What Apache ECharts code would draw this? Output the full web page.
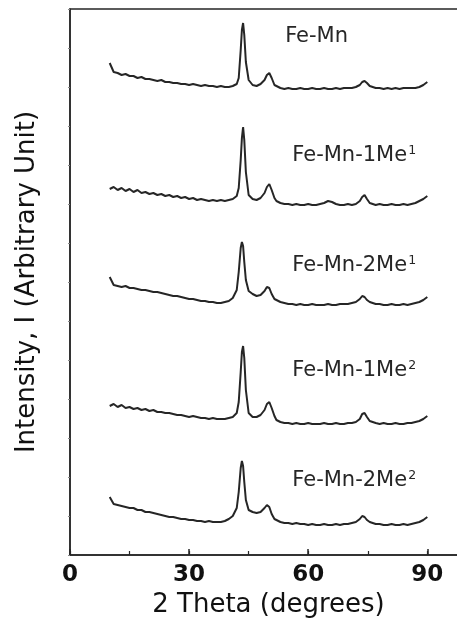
<!DOCTYPE html>
<html>
<head>
<meta charset="utf-8">
<script src="https://cdn.jsdelivr.net/npm/echarts@6/dist/echarts.min.js"></script>
<style>html,body{margin:0;padding:0;background:#fff;}#c{width:457px;height:619px;}</style>
</head>
<body>
<div id="c"></div>
<script>
// 2-theta positions (degrees)
const twoTheta = [10,11,12,13,14,15,16,17,18,19,20,21,22,23,24,25,26,27,28,29,30,31,32,33,34,35,36,37,38,39,40,41,42,42.5,43,43.3,43.6,43.9,44.3,45,46,47,48,49,49.6,50.2,50.8,51.5,52,53,54,55,56,57,58,59,60,61,62,63,64,65,66,67,68,69,70,71,72,73,73.6,74.2,74.8,75.5,76,77,78,79,80,81,82,83,84,85,86,87,88,89,89.5,90];

// Stacked intensities (arbitrary units)
const feMn = [492,483,482,480,481,479,479,477,478,476,476,475,474,475,473,473,472,472,471,471,470,471,470,469,470,469,469,468,469,468,468,469,471,477,505,525,532,520,493,475,470,469,471,475,480,482,477,470,468,467,466,467,466,466,467,466,466,467,466,466,467,466,466,467,466,467,467,467,468,470,473,474,472,469,468,467,467,466,467,466,467,466,467,467,467,467,468,470,471,473];
const feMn1Me1 = [366,368,365,367,364,366,363,365,362,363,361,362,360,361,359,360,358,359,357,358,356,357,355,356,355,354,355,354,355,354,355,356,359,367,395,417,428,415,383,360,356,355,357,362,368,371,365,357,354,352,351,351,350,351,350,350,351,350,350,351,352,354,353,351,350,350,351,350,351,354,358,360,356,352,351,350,351,350,350,351,350,350,351,350,351,352,354,356,357,359];
const feMn2Me1 = [278,270,269,268,269,267,267,266,265,265,264,263,263,262,261,260,259,259,258,257,256,256,255,254,254,253,253,252,252,253,254,257,265,283,307,313,309,293,275,264,261,259,260,264,268,267,261,256,254,253,252,251,251,250,251,250,250,251,250,250,250,251,250,250,251,251,251,252,253,256,259,258,255,253,252,251,251,250,250,251,250,250,251,250,251,252,253,255,256,258];
const feMn1Me2 = [149,151,148,150,147,148,146,147,145,146,144,145,143,143,142,142,141,140,140,139,138,139,138,137,137,136,137,136,136,136,137,138,142,153,183,203,209,197,165,142,138,138,140,145,151,153,147,139,135,133,132,132,131,132,131,131,132,131,131,131,132,131,131,132,131,131,132,132,133,136,141,142,138,134,133,132,131,132,131,131,132,131,131,132,132,133,134,136,137,139];
const feMn2Me2 = [58,51,50,49,48,47,47,45,45,43,43,42,41,40,39,38,38,37,36,36,35,35,34,34,33,34,33,33,33,34,36,39,47,63,87,94,89,73,55,45,43,42,43,47,50,48,41,36,34,33,32,32,31,32,31,31,30,31,30,30,31,30,30,31,30,31,31,32,33,36,39,38,35,33,32,31,31,30,30,31,30,30,31,30,31,32,33,35,36,38];

const seriesNames = ['Fe-Mn','Fe-Mn-1Me1','Fe-Mn-2Me1','Fe-Mn-1Me2','Fe-Mn-2Me2'];
const seriesValues = [feMn, feMn1Me1, feMn2Me1, feMn1Me2, feMn2Me2];
const labelMain = ['Fe-Mn','Fe-Mn-1Me','Fe-Mn-2Me','Fe-Mn-1Me','Fe-Mn-2Me'];
const labelSup = ['','1','1','2','2'];
const labelAt = [[54.2,518],[56,399],[56,289],[56,184],[56,74]];

const xTicks = [0,30,60,90];

const chart = echarts.init(document.getElementById('c'), null, {renderer:'canvas'});
const ink = '#262626';
const series = seriesValues.map((vals, i) => ({
  name: seriesNames[i],
  type: 'line',
  xAxisIndex: 0,
  showSymbol: false,
  symbol: 'none',
  lineStyle: {color: ink, width: 2},
  data: vals.map((v, k) => [twoTheta[k], v]),
  markPoint: {
    symbol: 'circle', symbolSize: 0, silent: true,
    data: [{coord: labelAt[i]}],
    label: {
      show: true, position: 'right', distance: 0,
      formatter: labelSup[i] ? '{b|' + labelMain[i] + '}{s|' + labelSup[i] + '}' : '{b|' + labelMain[i] + '}',
      rich: {
        b: {fontFamily: 'DejaVu Sans', fontSize: 21, color: ink, lineHeight: 24},
        s: {fontFamily: 'DejaVu Sans', fontSize: 12.5, color: ink, verticalAlign: 'top', lineHeight: 5, padding:[0,0,0,1]}
      }
    }
  }
}));

chart.setOption({
  animation: false,
  backgroundColor: '#fff',
  grid: {left: 70, top: 9, width: 397, height: 546, outerBoundsMode: 'none', containLabel: false,
    show: true, borderColor: ink, borderWidth: 1.5, backgroundColor: 'transparent'},
  xAxis: [
    {
      type: 'value', min: 0, max: 100, interval: 30,
      axisLine: {show: true, lineStyle: {color: ink, width: 1.5}},
      axisTick: {show: true, inside: true, length: 6, lineStyle: {color: ink, width: 1.5}},
      axisLabel: {show: true, margin: 9, showMaxLabel: false, color: '#111', fontFamily: 'DejaVu Sans', fontWeight: 'bold', fontSize: 23,
        formatter: v => xTicks.indexOf(v) >= 0 ? String(v) : ''},
      splitLine: {show: false},
      name: '2 Theta (degrees)', nameLocation: 'middle', nameGap: 31,
      nameTextStyle: {fontFamily: 'DejaVu Sans', fontSize: 26, color: '#111'}
    },
    {
      type: 'value', min: 0, max: 100, interval: 15, position: 'bottom', gridIndex: 0,
      axisLine: {show: false},
      axisTick: {show: true, inside: true, length: 4, lineStyle: {color: ink, width: 1.2}},
      axisLabel: {show: false},
      splitLine: {show: false}
    }
  ],
  yAxis: {
    type: 'value', min: 0, max: 546, interval: 39,
    axisLine: {show: true, lineStyle: {color: ink, width: 1.5}},
    axisTick: {show: true, inside: false, length: 2, lineStyle: {color: '#888', width: 1}},
    axisLabel: {show: false},
    splitLine: {show: false},
    name: 'Intensity, I (Arbitrary Unit)', nameLocation: 'middle', nameGap: 30,
    nameTextStyle: {fontFamily: 'DejaVu Sans', fontSize: 26, color: '#111'}
  },
  series: series
});
</script>
</body>
</html>
